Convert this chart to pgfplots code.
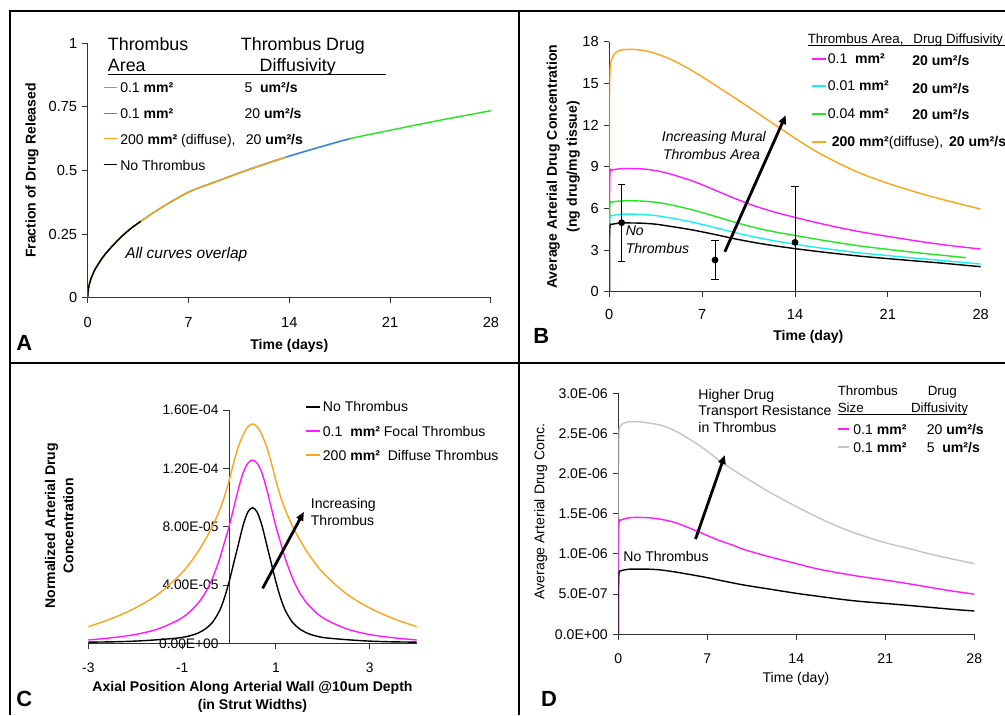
\documentclass[border=0pt]{standalone}
\usepackage{fontspec}
\setmainfont{Liberation Sans}
\usepackage{pgfplots}
\pgfplotsset{compat=1.18}
\usetikzlibrary{arrows.meta}

\definecolor{cgreen}{HTML}{22E622}
\definecolor{cblue}{HTML}{4A7BFF}
\definecolor{corange}{HTML}{FFA31A}
\definecolor{cmag}{HTML}{FF1AFF}
\definecolor{ccyan}{HTML}{1AF0F0}
\definecolor{cgray}{HTML}{C4C4C4}

\newcommand\fs[1]{\fontsize{#1}{14}\selectfont}

\pgfplotsset{
  excel/.style={
    scale only axis, anchor=south west,
    axis x line=bottom, axis y line=left,
    axis line style={-, black!80, line width=0.7pt},
    tick align=outside, major tick length=0.14cm,
    tick style={black!80, line width=0.7pt},
    /pgf/number format/assume math mode=true,
    tick label style={font=\fs{10.4}},
  },
  crv/.style={line width=1pt, smooth, tension=0.5, mark=none},
}

\begin{document}
\begin{tikzpicture}
\path[use as bounding box] (0,0) rectangle (25.125,17.875);
\clip (0,0) rectangle (25.125,17.875);

% ---------------- A ----------------
\begin{axis}[excel, at={(2.1925cm,10.4325cm)}, width=10.08cm, height=6.36cm,
  xticklabel style={yshift=-0.22cm},
  xmin=0, xmax=28, ymin=0, ymax=1,
  xtick={0,7,14,21,28}, ytick={0,0.25,0.5,0.75,1},
  every axis x label/.style={at={(axis description cs:0.5,-0.19)}, anchor=center, font=\bfseries\fs{10}},
  every axis y label/.style={at={(axis description cs:-0.138,0.5)}, anchor=center, rotate=90, font=\bfseries\fs{10}},
  xlabel={Time (days)}, ylabel={Fraction of Drug Released}]
\addplot[crv, cgreen] coordinates {(0,0) (0.05,0.035) (0.2,0.07) (0.5,0.11) (1,0.155) (1.5,0.19) (2,0.22) (2.5,0.248) (3,0.272) (3.68,0.3) (5,0.35) (7,0.415) (9,0.458) (11,0.5) (13.8,0.553) (16,0.59) (18.2,0.625) (21,0.658) (24.5,0.698) (28,0.735)};
\addplot[crv, cblue] coordinates {(0,0) (0.05,0.035) (0.2,0.07) (0.5,0.11) (1,0.155) (1.5,0.19) (2,0.22) (2.5,0.248) (3,0.272) (3.68,0.3) (5,0.35) (7,0.415) (9,0.458) (11,0.5) (13.8,0.553) (16,0.59) (18.2,0.625)};
\addplot[crv, corange] coordinates {(0,0) (0.05,0.035) (0.2,0.07) (0.5,0.11) (1,0.155) (1.5,0.19) (2,0.22) (2.5,0.248) (3,0.272) (3.68,0.3) (5,0.35) (7,0.415) (9,0.458) (11,0.5) (13.8,0.553)};
\addplot[crv, black] coordinates {(0,0) (0.05,0.035) (0.2,0.07) (0.5,0.11) (1,0.155) (1.5,0.19) (2,0.22) (2.5,0.248) (3,0.272) (3.68,0.3)};
\end{axis}

% ---------------- B ----------------
\begin{axis}[excel, at={(15.2325cm,10.5825cm)}, width=9.285cm, height=6.25cm,
  xticklabel style={yshift=-0.17cm},
  xmin=0, xmax=28, ymin=0, ymax=18,
  xtick={0,7,14,21,28}, ytick={0,3,6,9,12,15,18},
  every axis x label/.style={at={(axis description cs:0.536,-0.182)}, anchor=center, font=\bfseries\fs{10}},
  every axis y label/.style={at={(axis description cs:-0.124,0.5)}, anchor=center, rotate=90, align=center, font=\bfseries\fontsize{10}{14.2}\selectfont},
  xlabel={Time (day)}, ylabel={Average Arterial Drug Concentration\\(ng drug/mg tissue)}]
\addplot[crv, corange] coordinates {(0,0) (0.01,12) (0.03,15.2) (0.1,16.4) (0.3,17.0) (0.7,17.35) (1.5,17.45) (2.5,17.38) (3.5,17.15) (4.7,16.7) (6,16.05) (7.2,15.35) (8.5,14.55) (9.7,13.8) (11,12.98) (12.2,12.2) (13.3,11.5) (14,11.05) (15.5,10.15) (17.3,9.24) (19,8.5) (21,7.8) (23,7.2) (24.8,6.72) (26.5,6.3) (28,5.95)};
\addplot[crv, cmag] coordinates {(0,0) (0.01,6) (0.05,8.6) (0.2,8.75) (0.8,8.85) (1.5,8.87) (2.5,8.84) (3.5,8.72) (4.5,8.5) (6,8.06) (7,7.7) (8.2,7.22) (9.5,6.7) (11,6.16) (12.5,5.72) (14,5.35) (15.5,5.0) (17.3,4.62) (19,4.3) (21,3.98) (23,3.68) (24.8,3.43) (26.5,3.23) (28,3.07)};
\addplot[crv, cgreen] coordinates {(0,0) (0.01,4.5) (0.05,6.35) (0.2,6.45) (0.8,6.53) (1.5,6.55) (2.5,6.52) (3.5,6.44) (4.5,6.28) (6,5.96) (7,5.7) (8.2,5.36) (9.5,4.99) (11,4.61) (12.5,4.3) (14,4.05) (15.5,3.8) (17.3,3.52) (19,3.28) (21,3.05) (23,2.83) (24.8,2.65) (26.9,2.45)};
\addplot[crv, ccyan] coordinates {(0,0) (0.01,4) (0.05,5.35) (0.2,5.48) (0.8,5.57) (1.5,5.59) (2.5,5.56) (3.5,5.48) (4.5,5.33) (6,5.06) (7,4.84) (8.2,4.56) (9.5,4.25) (11,3.93) (12.5,3.65) (14,3.42) (15.5,3.2) (17.3,2.98) (19,2.78) (21,2.6) (23,2.42) (24.8,2.27) (26.5,2.12) (28,1.99)};
\addplot[crv, black] coordinates {(0,0) (0.01,3.5) (0.05,4.75) (0.2,4.85) (0.8,4.94) (1.5,4.95) (2.5,4.93) (3.5,4.86) (4.5,4.72) (6,4.49) (7,4.31) (8.2,4.07) (9.5,3.8) (11,3.53) (12.5,3.3) (14,3.1) (15.5,2.92) (17.3,2.72) (19,2.55) (21,2.38) (23,2.22) (24.8,2.08) (26.5,1.93) (28,1.8)};
\addplot[black, only marks, mark=*, mark size=2.1pt, line width=0.6pt,
  error bars/.cd, y dir=both, y explicit, error mark=-,
  error mark options={rotate=90, black, mark size=2.6pt, line width=0.6pt},
  error bar style={black, line width=0.6pt}]
  coordinates {(0.93,4.97) +- (0,2.76) (7.97,2.28) +- (0,1.39) (14,3.55) +- (0,4.05)};
\end{axis}

% ---------------- C ----------------
\begin{axis}[scale only axis, anchor=south west, at={(2.2075cm,1.7925cm)}, width=8.21cm, height=5.83cm,
  axis x line=bottom, axis y line=middle,
  axis line style={-, black!80, line width=0.7pt},
  tick align=outside, major tick length=0.14cm,
  tick style={black!80, line width=0.7pt},
  tick label style={font=\fs{9.8}},
  xticklabel style={yshift=-0.22cm},
  hide obscured x ticks=false, hide obscured y ticks=false,
  xmin=-3, xmax=4, ymin=0, ymax=16,
  xtick={-3,-1,1,3}, xticklabels={-3,-1,1,3},
  ytick={0,4,8,12,16}, yticklabels={0.00E+00,4.00E-05,8.00E-05,1.20E-04,1.60E-04},
  every axis x label/.style={at={(axis description cs:0.5,-0.23)}, anchor=center, align=center, font=\bfseries\fontsize{10}{12.6}\selectfont},
  every axis y label/.style={at={(axis description cs:-0.0886,0.504)}, anchor=center, rotate=90, align=center, font=\bfseries\fontsize{10}{13}\selectfont},
  xlabel={Axial Position Along Arterial Wall @10um Depth\\(in Strut Widths)},
  ylabel={Normalized Arterial Drug\\Concentration}]
\addplot[crv, corange] coordinates {(-3,1.14) (-2.5,1.7) (-2,2.42) (-1.5,3.4) (-1,4.85) (-0.7,6.1) (-0.5,7.15) (-0.35,8.05) (-0.2,9.15) (-0.1,10.05) (0,11.15) (0.1,12.4) (0.2,13.5) (0.3,14.3) (0.4,14.85) (0.5,15.05) (0.6,14.85) (0.7,14.3) (0.8,13.5) (0.9,12.4) (1.0,11.15) (1.1,10.05) (1.2,9.15) (1.35,8.05) (1.5,7.15) (1.7,6.1) (2.0,4.85) (2.5,3.4) (3.0,2.42) (3.5,1.7) (4.0,1.14)};
\addplot[crv, cmag] coordinates {(-3,0.23) (-2.5,0.38) (-2,0.6) (-1.5,1.0) (-1,1.75) (-0.7,2.6) (-0.5,3.5) (-0.35,4.5) (-0.2,5.8) (-0.1,6.9) (0,8.0) (0.1,9.3) (0.2,10.6) (0.3,11.7) (0.4,12.35) (0.5,12.57) (0.6,12.35) (0.7,11.7) (0.8,10.6) (0.9,9.3) (1.0,8.0) (1.1,6.9) (1.2,5.8) (1.35,4.5) (1.5,3.5) (1.7,2.6) (2.0,1.75) (2.5,1.0) (3.0,0.6) (3.5,0.38) (4.0,0.23)};
\addplot[crv, black] coordinates {(-3,0.08) (-2.5,0.1) (-2,0.15) (-1.5,0.25) (-1,0.4) (-0.7,0.65) (-0.5,1.0) (-0.35,1.45) (-0.2,2.25) (-0.1,3.1) (0,4.2) (0.1,5.5) (0.2,6.8) (0.3,8.1) (0.4,9.0) (0.5,9.3) (0.6,9.0) (0.7,8.1) (0.8,6.8) (0.9,5.5) (1.0,4.2) (1.1,3.1) (1.2,2.25) (1.35,1.45) (1.5,1.0) (1.7,0.65) (2.0,0.4) (2.5,0.25) (3.0,0.15) (3.5,0.1) (4.0,0.08)};
\end{axis}

% ---------------- D ----------------
\begin{axis}[excel, at={(15.4575cm,2.0175cm)}, width=8.9cm, height=6.025cm,
  xticklabel style={yshift=-0.22cm},
  xmin=0, xmax=28, ymin=0, ymax=3,
  tick label style={font=\fs{10}},
  xtick={0,7,14,21,28}, ytick={0,0.5,1,1.5,2,2.5,3},
  yticklabels={0.0E+00,5.0E-07,1.0E-06,1.5E-06,2.0E-06,2.5E-06,3.0E-06},
  every axis x label/.style={at={(axis description cs:0.499,-0.183)}, anchor=center, font=\fs{10}},
  every axis y label/.style={at={(axis description cs:-0.218,0.509)}, anchor=center, rotate=90, font=\fs{10}},
  xlabel={Time (day)}, ylabel={Average Arterial Drug Conc.}]
\addplot[crv, cgray] coordinates {(0,0) (0.01,1.8) (0.05,2.5) (0.2,2.6) (0.6,2.64) (1.2,2.646) (2,2.64) (3.4,2.6) (4.5,2.53) (5.8,2.41) (7,2.28) (7.9,2.17) (9,2.05) (10,1.95) (12,1.76) (14,1.59) (15.5,1.47) (17.3,1.34) (19,1.24) (21,1.14) (22.8,1.07) (24.5,1.0) (26.2,0.94) (28,0.88)};
\addplot[crv, cmag] coordinates {(0,0) (0.01,0.9) (0.05,1.38) (0.2,1.42) (0.8,1.45) (1.5,1.455) (2.5,1.45) (3.4,1.43) (4.5,1.39) (5.8,1.31) (7,1.23) (7.9,1.17) (9,1.11) (10,1.05) (12,0.96) (14,0.88) (15.5,0.82) (17.3,0.765) (19,0.72) (21,0.675) (22.8,0.63) (24.5,0.585) (26.2,0.54) (28,0.50)};
\addplot[crv, black] coordinates {(0,0) (0.01,0.5) (0.05,0.76) (0.2,0.79) (0.8,0.81) (1.5,0.812) (2.5,0.81) (3.4,0.8) (4.5,0.775) (5.8,0.74) (7,0.705) (7.9,0.675) (9,0.64) (10,0.61) (12,0.56) (14,0.51) (15.5,0.478) (17.3,0.44) (19,0.41) (21,0.384) (22.8,0.36) (24.5,0.336) (26.2,0.312) (28,0.29)};
\end{axis}

% ---------------- frames, legends, notes (1 unit = 1 px) ----------------
\begin{scope}[x=0.025cm,y=0.025cm,
  t/.style={anchor=base west, inner sep=0pt},
  lg/.style={line width=1.3pt},
  arr/.style={-{Triangle[length=0.22cm,width=0.18cm]}, line width=2pt}]
\draw[line width=1.4pt] (10,0) -- (10,704) -- (1005,704);
\draw[line width=1.4pt] (519,0) -- (519,704);
\draw[line width=1.4pt] (10,351.7) -- (1005,351.7);

% A
\node[t, font=\fs{12.7}] at (107.7,665) {Thrombus};
\node[t, font=\fs{12.7}] at (107.7,643.3) {Area};
\node[t, font=\fs{12.7}] at (240.7,665) {Thrombus Drug};
\node[t, font=\fs{12.7}] at (259.5,643.3) {Diffusivity};
\draw[line width=0.7pt] (107.7,641) -- (385.7,641);
\draw[lg, draw=cgreen] (103.7,627.7) -- (116.7,627.7);
\draw[lg, draw=cblue] (103.7,601.7) -- (116.7,601.7);
\draw[lg, draw=corange] (103.7,576.7) -- (116.7,576.7);
\draw[lg, draw=black] (103.7,550.7) -- (116.7,550.7);
\node[t, font=\fs{10}] at (120,622.3) {0.1 \textbf{mm²}};
\node[t, font=\fs{10}] at (120,596.7) {0.1 \textbf{mm²}};
\node[t, font=\fs{10}] at (120,571) {200 \textbf{mm²} (diffuse),};
\node[t, font=\fs{10}] at (120,545) {No Thrombus};
\node[t, font=\fs{10}] at (244.3,622.3) {5\ \ \textbf{um²/s}};
\node[t, font=\fs{10}] at (244.3,596.7) {20 \textbf{um²/s}};
\node[t, font=\fs{10}] at (245.7,571) {20 \textbf{um²/s}};
\node[t, font=\itshape\fs{11}] at (125,456.7) {All curves overlap};
\node[t, font=\bfseries\fs{15.6}] at (16,364.3) {A};

% B
\node[t, font=\fs{9.5}] at (807.7,671.5) {Thrombus Area,};
\node[t, font=\fs{9.5}] at (913.3,671.5) {Drug Diffusivity};
\draw[line width=0.7pt] (807.7,669.5) -- (1005,669.5);
\draw[lg, draw=cmag] (812.3,656) -- (825.7,656);
\draw[lg, draw=ccyan] (812.3,629) -- (825.7,629);
\draw[lg, draw=cgreen] (812.3,601) -- (825.7,601);
\draw[lg, draw=corange] (812.3,573.3) -- (825.7,573.3);
\node[t, font=\fs{10}] at (827.7,651.7) {0.1\ \ \textbf{mm²}};
\node[t, font=\fs{10}] at (827.7,624.3) {0.01 \textbf{mm²}};
\node[t, font=\fs{10}] at (827.7,596.7) {0.04 \textbf{mm²}};
\node[t, font=\fs{10}] at (831.7,568.3) {\textbf{200 mm²}(diffuse),};
\node[t, font=\bfseries\fs{10}] at (912.3,650) {20 um²/s};
\node[t, font=\bfseries\fs{10}] at (912.3,621.7) {20 um²/s};
\node[t, font=\bfseries\fs{10}] at (912.3,595.7) {20 um²/s};
\node[t, font=\bfseries\fs{10}] at (949,568.3) {20 um²/s};
\node[anchor=base, inner sep=0pt, font=\itshape\fs{10}] at (714,573.3) {Increasing Mural};
\node[anchor=base, inner sep=0pt, font=\itshape\fs{10}] at (711.7,555.7) {Thrombus Area};
\draw[arr] (725,463.3) -- (786,600);
\node[t, font=\itshape\fs{10}] at (625.7,480) {No};
\node[t, font=\itshape\fs{10}] at (625.7,461.7) {Thrombus};
\node[t, font=\bfseries\fs{15.6}] at (533.3,371.7) {B};

% C
\draw[lg, draw=black] (306,308.3) -- (320,308.3);
\draw[lg, draw=cmag] (306,284) -- (320,284);
\draw[lg, draw=corange] (306,260) -- (320,260);
\node[t, font=\fs{10}] at (322.7,303.3) {No Thrombus};
\node[t, font=\fs{10}] at (322.7,279) {0.1\ \ \textbf{mm²} Focal Thrombus};
\node[t, font=\fs{10}] at (322.7,255) {200 \textbf{mm²}\ \ Diffuse Thrombus};
\node[t, font=\fs{10}] at (310.7,206.7) {Increasing};
\node[t, font=\fs{10}] at (310.7,189.3) {Thrombus};
\draw[arr] (262.7,126.7) -- (304,203.3);
\node[t, font=\bfseries\fs{15.6}] at (16,9) {C};

% D
\node[t, font=\fs{10}] at (698.3,315.7) {Higher Drug};
\node[t, font=\fs{10}] at (698.3,299.3) {Transport Resistance};
\node[t, font=\fs{10}] at (698.3,282.7) {in Thrombus};
\draw[arr] (695.7,176) -- (725,260);
\node[t, font=\fs{10}] at (623.3,153.3) {No Thrombus};
\node[t, font=\fs{9.5}] at (837.7,320) {Thrombus};
\node[t, font=\fs{9.5}] at (927.7,320) {Drug};
\node[t, font=\fs{9.5}] at (837.7,302.7) {Size};
\node[t, font=\fs{9.5}] at (911,302.7) {Diffusivity};
\draw[line width=0.7pt] (837.7,300.8) -- (967,300.8);
\draw[lg, draw=cmag] (837.7,286) -- (849,286);
\draw[lg, draw=cgray] (837.7,267.7) -- (849,267.7);
\node[t, font=\fs{10}] at (853.3,281) {0.1 \textbf{mm²}};
\node[t, font=\fs{10}] at (853.3,262.7) {0.1 \textbf{mm²}};
\node[t, font=\fs{10}] at (926.7,281) {20 \textbf{um²/s}};
\node[t, font=\fs{10}] at (926.7,262.7) {5\ \ \textbf{um²/s}};
\node[t, font=\bfseries\fs{15.6}] at (541,9) {D};
\end{scope}
\end{tikzpicture}
\end{document}
